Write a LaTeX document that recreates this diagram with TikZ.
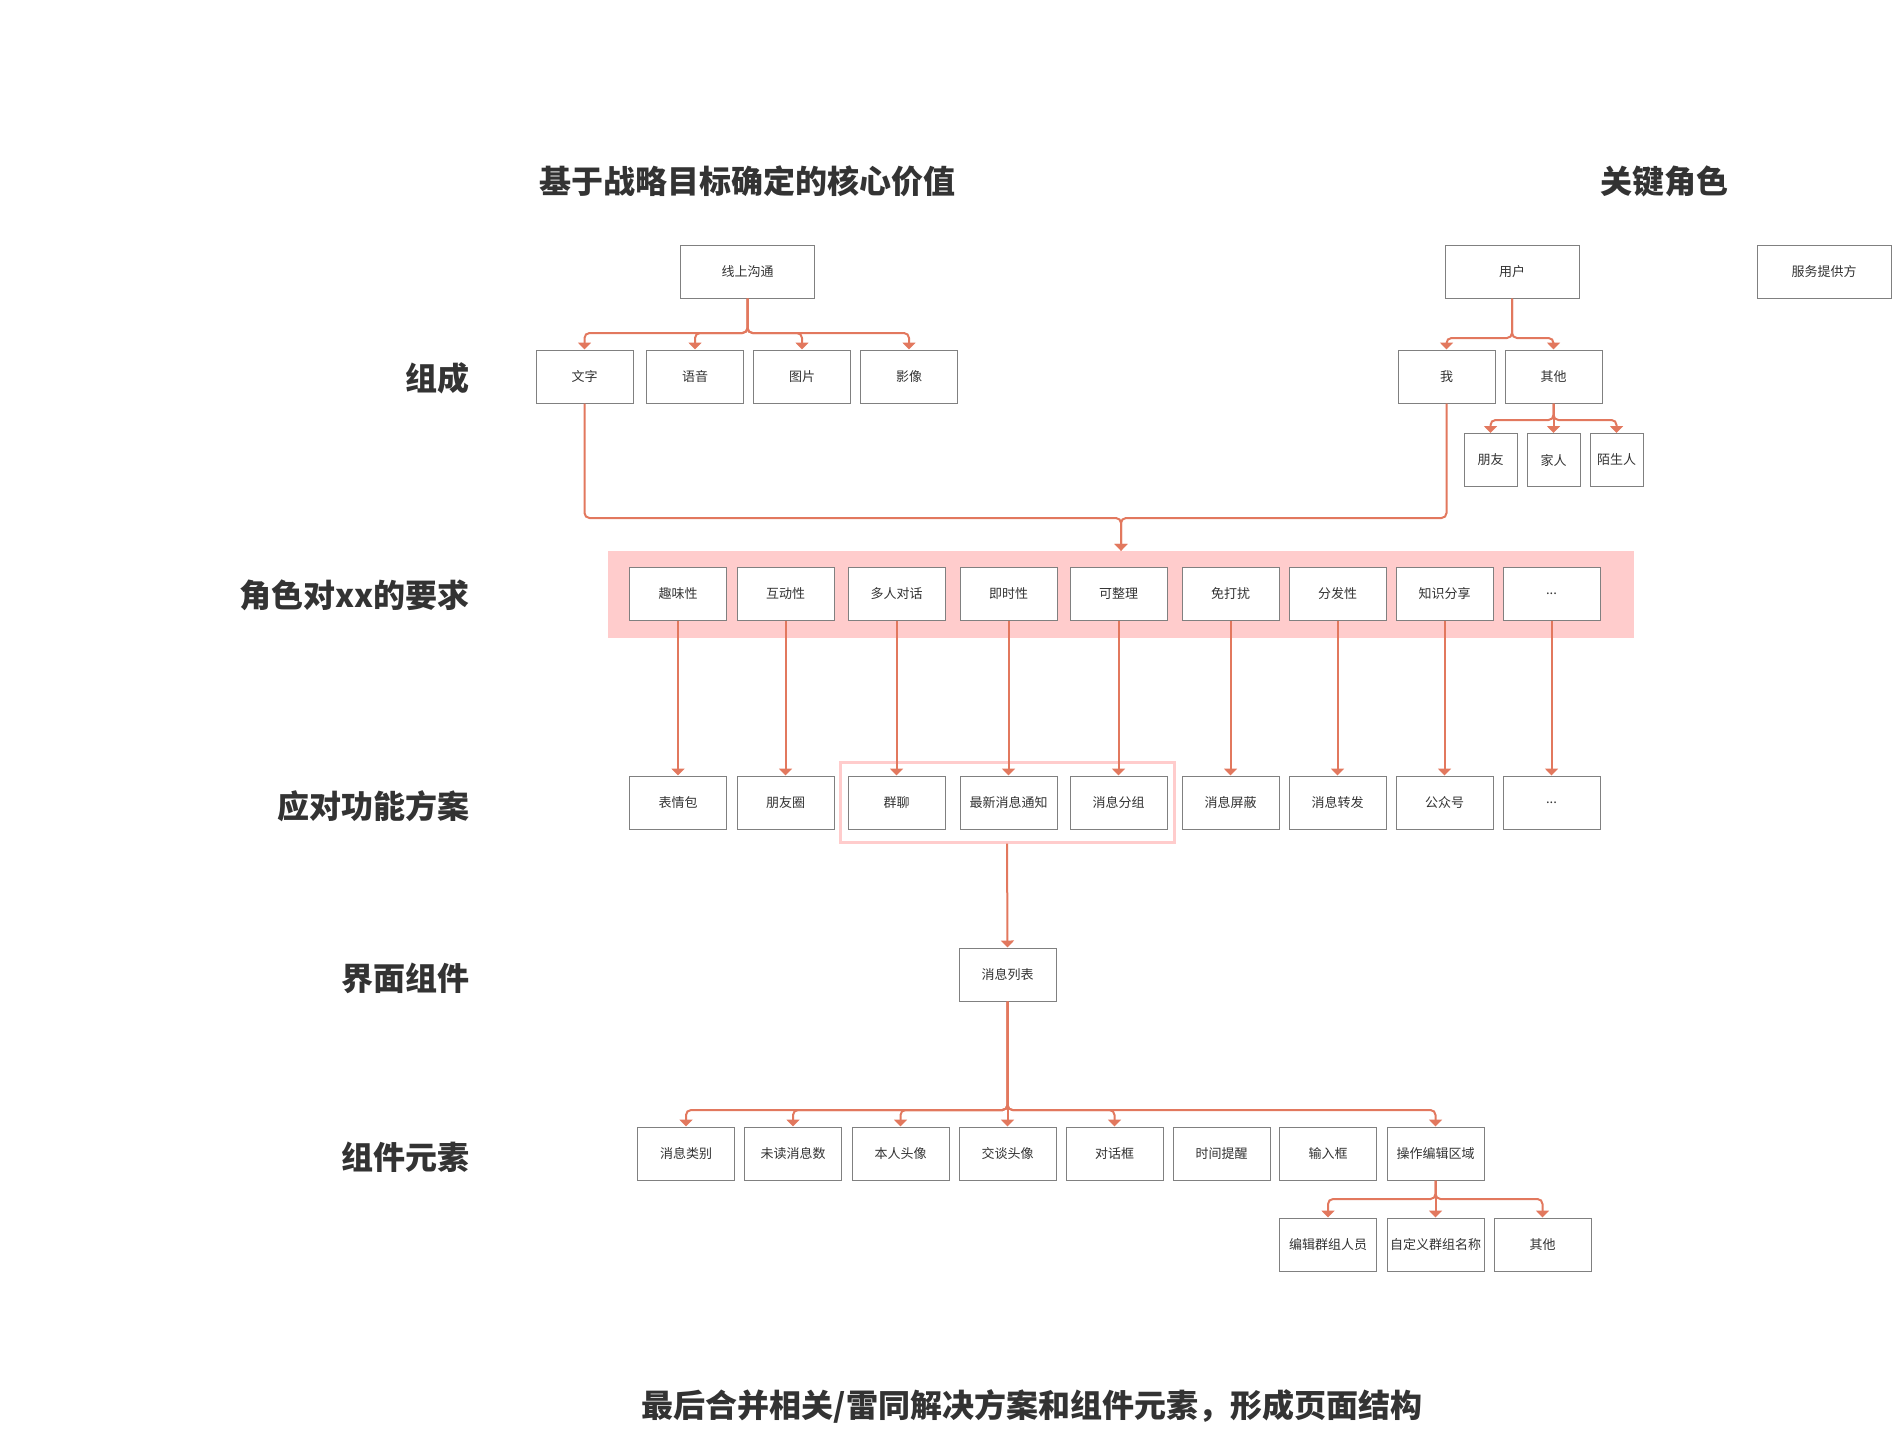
\documentclass[tikz,border=0pt]{standalone}
\usepackage{fontspec}
\newfontfamily\cjk{Noto Sans CJK SC}
\usetikzlibrary{arrows.meta}
\definecolor{wirered}{HTML}{E2785E}
\definecolor{boxgrey}{HTML}{808080}
\definecolor{bandpink}{HTML}{FFCCCC}
\definecolor{inkgrey}{HTML}{333333}
\tikzset{
	cell/.style={shape=rectangle, draw=boxgrey, line width=1pt, fill=white, minimum width=97pt, minimum height=53pt, inner sep=0pt, font=\cjk\fontsize{13pt}{15pt}\selectfont, text=inkgrey},
	sqcell/.style={cell, minimum width=53pt},
	widecell/.style={cell, minimum width=134pt},
	rowlabel/.style={anchor=east, inner sep=0pt, font=\cjk\bfseries\fontsize{32pt}{36pt}\selectfont, text=inkgrey},
	heading/.style={inner sep=0pt, font=\cjk\bfseries\fontsize{32pt}{36pt}\selectfont, text=inkgrey},
	wire/.style={draw=wirered, line width=2pt, rounded corners=5pt, -{Triangle[width=13pt,length=7pt]}}
}
\begin{document}
\begin{tikzpicture}[x=1pt, y=-1pt]
	\useasboundingbox (0,0) rectangle (1892,1428);
	% Headings and row labels:
	\node[heading] (hd1) at (747.5,181) {基于战略目标确定的核心价值};
	\node[heading] (hd2) at (1664,181) {关键角色};
	\node[rowlabel] (lb1) at (470,378) {组成};
	\node[rowlabel] (lb2) at (470,595) {角色对xx的要求};
	\node[rowlabel] (lb3) at (470,806) {应对功能方案};
	\node[rowlabel] (lb4) at (470,978) {界面组件};
	\node[rowlabel] (lb5) at (470,1157) {组件元素};
	\node[heading] (ft) at (1032,1406) {最后合并相关/雷同解决方案和组件元素，形成页面结构};
	% Core value tree:
	\node[widecell] (xs) at (747.5,271.5) {线上沟通};
	\node[cell] (wz) at (584.5,376.5) {文字};
	\node[cell] (yy) at (695,376.5) {语音};
	\node[cell] (tp) at (802,376.5) {图片};
	\node[cell] (yx) at (909,376.5) {影像};
	% Key roles:
	\node[widecell] (yh) at (1512,271.5) {用户};
	\node[widecell] (fw) at (1824,271.5) {服务提供方};
	\node[cell] (wo) at (1446.5,376.5) {我};
	\node[cell] (qt) at (1553.5,376.5) {其他};
	\node[sqcell] (py) at (1490.5,460) {朋友};
	\node[sqcell] (jr) at (1553.5,460) {家人};
	\node[sqcell] (msr) at (1616.5,460) {陌生人};
	% Requirements band:
	\node[shape=rectangle, fill=bandpink, minimum width=1026pt, minimum height=87pt, inner sep=0pt] (band) at (1121,594.5) {};
	\node[cell] (r1) at (678,593.5) {趣味性};
	\node[cell] (r2) at (785.5,593.5) {互动性};
	\node[cell] (r3) at (896.5,593.5) {多人对话};
	\node[cell] (r4) at (1008.5,593.5) {即时性};
	\node[cell] (r5) at (1118.5,593.5) {可整理};
	\node[cell] (r6) at (1230.5,593.5) {免打扰};
	\node[cell] (r7) at (1337.5,593.5) {分发性};
	\node[cell] (r8) at (1444.5,593.5) {知识分享};
	\node[cell] (r9) at (1551.5,593.5) {...};
	% Function plans:
	\node[shape=rectangle, draw=bandpink, line width=3pt, minimum width=334pt, minimum height=80pt, inner sep=0pt] (grp) at (1007,802) {};
	\node[cell] (s1) at (678,802.5) {表情包};
	\node[cell] (s2) at (785.5,802.5) {朋友圈};
	\node[cell] (s3) at (896.5,802.5) {群聊};
	\node[cell] (s4) at (1008.5,802.5) {最新消息通知};
	\node[cell] (s5) at (1118.5,802.5) {消息分组};
	\node[cell] (s6) at (1230.5,802.5) {消息屏蔽};
	\node[cell] (s7) at (1337.5,802.5) {消息转发};
	\node[cell] (s8) at (1444.5,802.5) {公众号};
	\node[cell] (s9) at (1551.5,802.5) {...};
	% Component and its elements:
	\node[cell] (xl) at (1007.5,974.5) {消息列表};
	\node[cell] (c1) at (686,1153.5) {消息类别};
	\node[cell] (c2) at (793,1153.5) {未读消息数};
	\node[cell] (c3) at (900.5,1153.5) {本人头像};
	\node[cell] (c4) at (1007.5,1153.5) {交谈头像};
	\node[cell] (c5) at (1114.5,1153.5) {对话框};
	\node[cell] (c6) at (1221.5,1153.5) {时间提醒};
	\node[cell] (c7) at (1328,1153.5) {输入框};
	\node[cell] (c8) at (1435.5,1153.5) {操作编辑区域};
	\node[cell] (d1) at (1328,1244.5) {编辑群组人员};
	\node[cell] (d2) at (1435.5,1244.5) {自定义群组名称};
	\node[cell] (d3) at (1542.5,1244.5) {其他};
	% Wires:
	\coordinate (fk1) at (747.5,333);
	\draw[wire] (xs.south) -- (fk1) -| (wz.north);
	\draw[wire] (xs.south) -- (fk1) -| (yy.north);
	\draw[wire] (xs.south) -- (fk1) -| (tp.north);
	\draw[wire] (xs.south) -- (fk1) -| (yx.north);
	\coordinate (fk2) at (1512,338);
	\draw[wire] (yh.south) -- (fk2) -| (wo.north);
	\draw[wire] (yh.south) -- (fk2) -| (qt.north);
	\coordinate (fk3) at (1553.5,420);
	\draw[wire] (qt.south) -- (fk3) -| (py.north);
	\draw[wire] (qt.south) -- (jr.north);
	\draw[wire] (qt.south) -- (fk3) -| (msr.north);
	\coordinate (fk4) at (1121,518);
	\draw[wire] (wz.south) |- (fk4) -- (band.north);
	\draw[wire] (wo.south) |- (fk4) -- (band.north);
	\draw[wire] (r1.south) -- (s1.north);
	\draw[wire] (r2.south) -- (s2.north);
	\draw[wire] (r3.south) -- (s3.north);
	\draw[wire] (r4.south) -- (s4.north);
	\draw[wire] (r5.south) -- (s5.north);
	\draw[wire] (r6.south) -- (s6.north);
	\draw[wire] (r7.south) -- (s7.north);
	\draw[wire] (r8.south) -- (s8.north);
	\draw[wire] (r9.south) -- (s9.north);
	\draw[wire] (grp.south) -- (xl.north);
	\coordinate (fk5) at (1007.5,1110);
	\draw[wire] (xl.south) -- (fk5) -| (c1.north);
	\draw[wire] (xl.south) -- (fk5) -| (c2.north);
	\draw[wire] (xl.south) -- (fk5) -| (c3.north);
	\draw[wire] (xl.south) -- (c4.north);
	\draw[wire] (xl.south) -- (fk5) -| (c5.north);
	\draw[wire] (xl.south) -- (fk5) -| (c8.north);
	\coordinate (fk6) at (1435.5,1199);
	\draw[wire] (c8.south) -- (fk6) -| (d1.north);
	\draw[wire] (c8.south) -- (d2.north);
	\draw[wire] (c8.south) -- (fk6) -| (d3.north);
\end{tikzpicture}
\end{document}
